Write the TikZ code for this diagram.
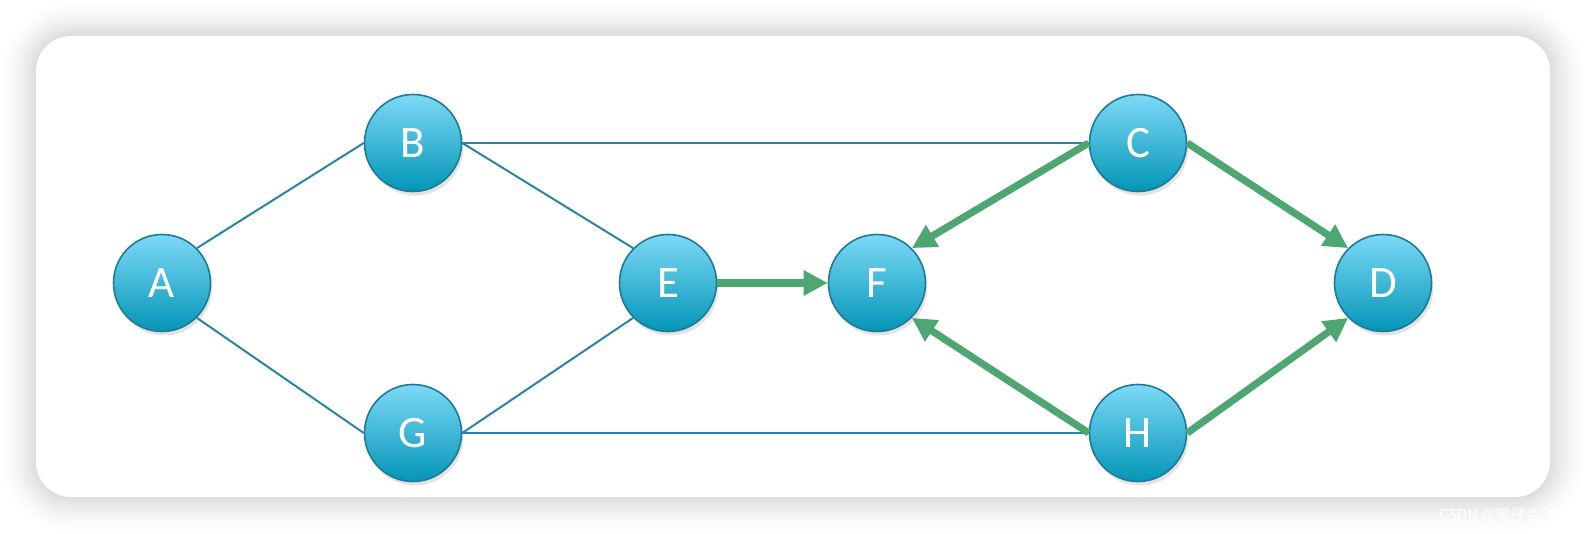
\documentclass[tikz,border=0pt]{standalone}
\usepackage{fontspec}
\setmainfont{Carlito}
\newfontfamily\cjk{Noto Sans CJK SC}
\usetikzlibrary{arrows.meta,shadows}

\definecolor{nodetop}{HTML}{7DD9F6}
\definecolor{nodebot}{HTML}{0395B7}
\definecolor{nodeline}{HTML}{1C7B98}
\definecolor{linkcol}{HTML}{2A86A0}
\definecolor{flowcol}{HTML}{4EA772}

\tikzset{
    vertex/.style={circle, draw=nodeline, line width=0.8pt, minimum size=48.5pt,
        inner sep=0pt, top color=nodetop, bottom color=nodebot, text=white,
        font=\fontsize{22.5}{26}\selectfont,
        drop shadow={opacity=0.22, shadow xshift=1pt, shadow yshift=-2pt}},
    link/.style={draw=linkcol, line width=1pt},
    flow/.style={draw=flowcol, line width=3.6pt, -{Triangle[length=12pt,width=12pt]}}
}

\begin{document}
\begin{tikzpicture}[x=0.5pt, y=-0.5pt]
        \useasboundingbox (0,0) rectangle (1586,534);
        \fill[white] (0,0) rectangle (1586,534);

        % card with soft shadow
        \foreach \s [evaluate=\s as \r using 17.5+\s*1.1,
                     evaluate=\s as \g using 14*(1-\s/19)^1.6] in {18,17,...,1}
            \fill[black!\g, rounded corners=\r pt]
                (36-\s*2, 36-\s*2) rectangle (1550+\s*2, 497+\s*2);
        \fill[white, rounded corners=17.5pt] (36,36) rectangle (1550,497);

        \node[vertex] (A) at (162,283) {A};
        \node[vertex] (B) at (413,143) {B};
        \node[vertex] (G) at (413,433) {G};
        \node[vertex] (E) at (668,283) {E};
        \node[vertex] (F) at (877,283) {F};
        \node[vertex] (C) at (1138,143) {C};
        \node[vertex] (H) at (1138,433) {H};
        \node[vertex] (D) at (1383,283) {D};

        \draw[link] (A.north east) -- (B.west);
        \draw[link] (A.south east) -- (G.west);
        \draw[link] (B.east) -- (E.north west);
        \draw[link] (G.east) -- (E.south west);
        \draw[link] (B.east) -- (C.west);
        \draw[link] (G.east) -- (H.west);

        \draw[flow] (E.east) -- (F.west);
        \draw[flow] (C.west) -- (F.north east);
        \draw[flow] (H.west) -- (F.south east);
        \draw[flow] (C.east) -- (D.north west);
        \draw[flow] (H.east) -- (D.south west);

        \node[anchor=west, text=white, font=\cjk\fontsize{7.5}{9}\selectfont] (wm) at (1432,515) {CSDN @暖仔会飞};
    \end{tikzpicture}
\end{document}
